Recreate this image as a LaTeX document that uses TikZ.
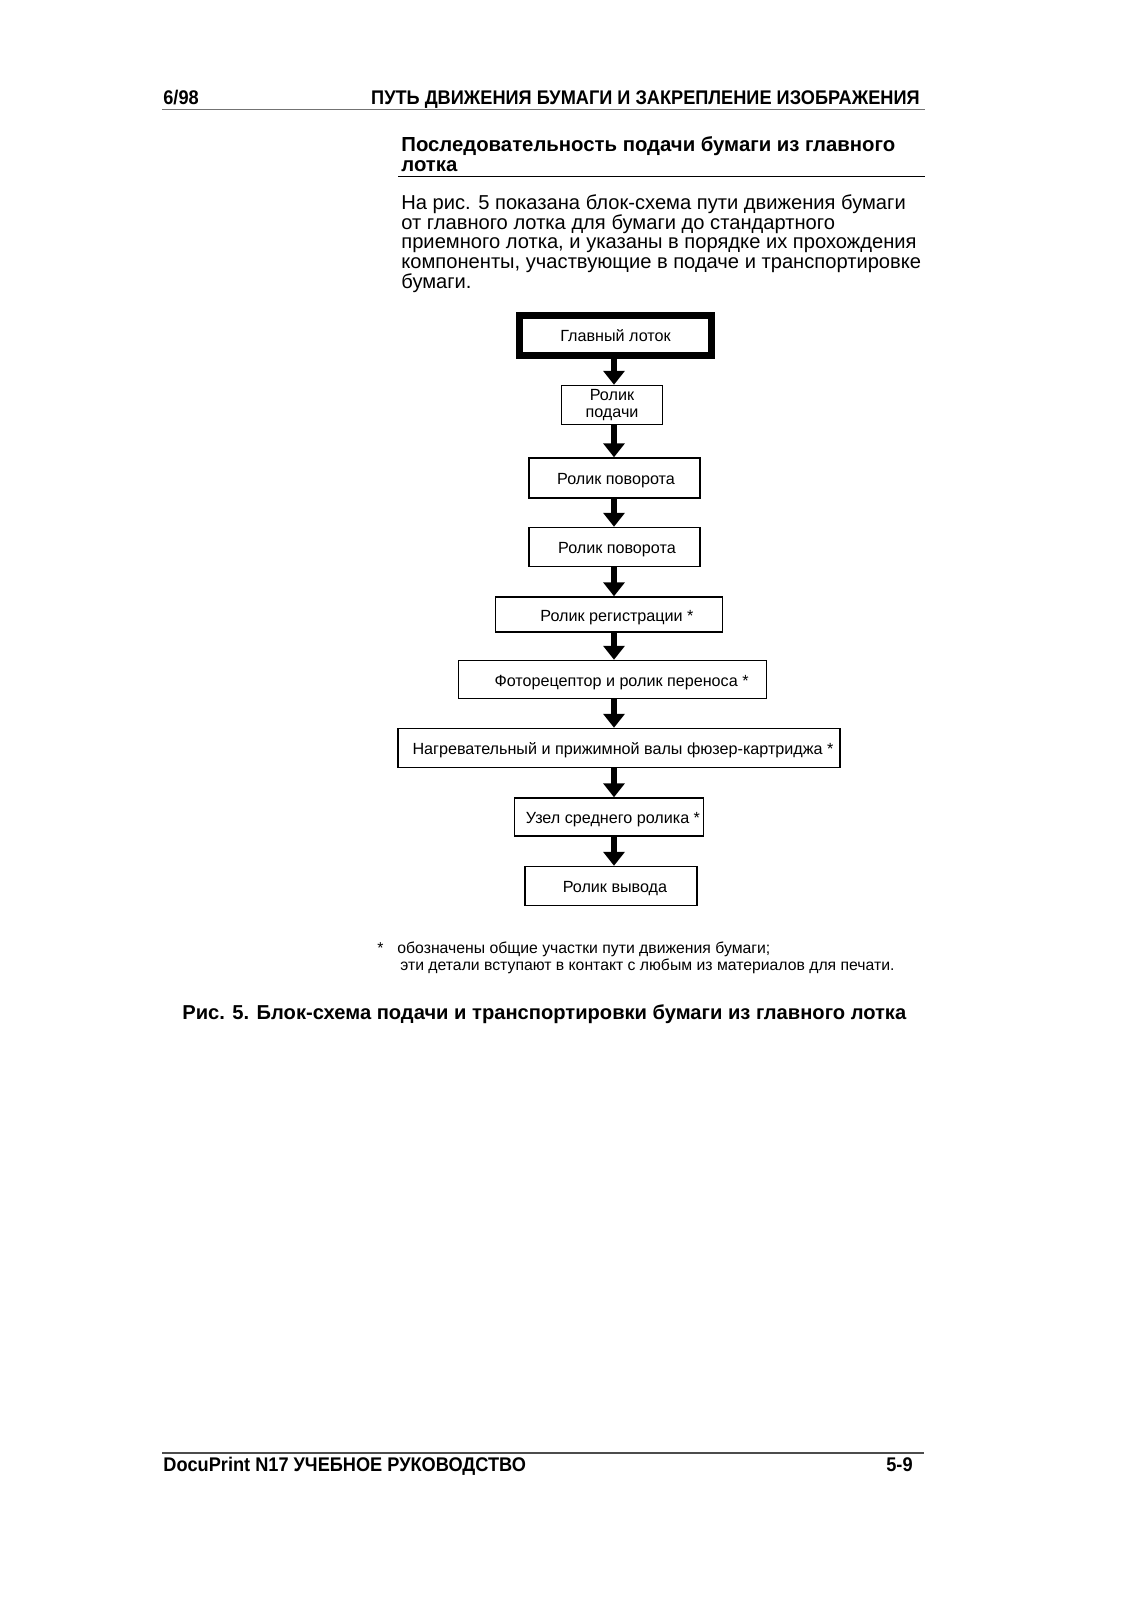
\documentclass[tikz,border=0pt]{standalone}
\usepackage{fontspec}
\setmainfont{Liberation Sans}
\usetikzlibrary{arrows.meta, positioning}

\def\px{0.52632pt}
\newcommand{\narrowtxt}[1]{\scalebox{0.92}[1]{#1}}
\tikzset{
  txt/.style={inner sep=0pt, anchor=base west},
  hdr/.style={txt, font=\bfseries\fontsize{10.4}{12}\selectfont},
  head/.style={txt, font=\bfseries\fontsize{10.7}{12}\selectfont},
  body/.style={txt, font=\fontsize{10.6}{12}\selectfont},
  note/.style={txt, font=\fontsize{8.3}{10}\selectfont},
  capt/.style={txt, font=\bfseries\fontsize{10.6}{12}\selectfont},
  block/.style 2 args={draw, line width=0.8pt, inner sep=0pt, align=center,
    minimum width=#1*\px, minimum height=#2*\px,
    font=\fontsize{8.5}{8.6}\selectfont},
  oneline/.style={text height=7pt, text depth=0pt},
  nudge/.style={execute at begin node=\hspace*{#1}},
  trayblock/.style={line width=3.7pt},
  flow/.style={line width=3.6pt, -{Triangle[length=7.3pt, width=11pt]}},
}

\begin{document}
\begin{tikzpicture}[x=\px, y=-\px]
\fill[white] (0,0) rectangle (1131,1600);
\useasboundingbox (0,0) rectangle (1131,1600);

% page header
\node[hdr] (pageno) at (163,104) {\narrowtxt{6/98}};
\node[hdr, anchor=base east] (chapter) at (920,104) {\narrowtxt{ПУТЬ ДВИЖЕНИЯ БУМАГИ И ЗАКРЕПЛЕНИЕ ИЗОБРАЖЕНИЯ}};
\draw[black!55, line width=1pt] (162,109.5) -- (925,109.5);

% section title and text
\node[head] (title1) at (401,151) {Последовательность подачи бумаги из главного};
\node[head] (title2) at (401,171) {лотка};
\draw[line width=0.8pt] (398,176.5) -- (925,176.5);

\foreach \t [count=\i] in {
  {На рис. 5 показана блок-схема пути движения бумаги},
  {от главного лотка для бумаги до стандартного},
  {приемного лотка, и указаны в порядке их прохождения},
  {компоненты, участвующие в подаче и транспортировке},
  {бумаги.}}
  \node[body] (body\i) at (401,{209.5+19.7*(\i-1)}) {\t};

% flow chart
\coordinate (axis) at (614,0);
\node[block={192}{40}, trayblock] (tray) at (615.5,335.5) {Главный лоток};
\node[block={101}{39}] (feed) at (612,405) {Ролик\\подачи};
\node[block={171}{40}, oneline, nudge=1.6pt] (turnA) at (614.5,478) {Ролик поворота};
\node[block={171}{39}, oneline, nudge=2.6pt] (turnB) at (614.5,547) {Ролик поворота};
\node[block={227}{35}, oneline, nudge=8.4pt] (regist) at (609,614.5) {Ролик регистрации *};
\node[block={308}{38}, oneline, nudge=9.5pt] (photo) at (612.5,679.5) {Фоторецептор и ролик переноса *};
\node[block={442}{39}, oneline, nudge=4.2pt] (fuser) at (619,748) {Нагревательный и прижимной валы фюзер-картриджа *};
\node[block={189}{38}, oneline, nudge=4.2pt] (middle) at (609,817) {Узел среднего ролика *};
\node[block={172.5}{39}, oneline, nudge=4.2pt] (exit) at (611,886) {Ролик вывода};

\foreach \a/\b in {tray/feed, feed/turnA, turnA/turnB, turnB/regist,
  regist/photo, photo/fuser, fuser/middle, middle/exit}
  \draw[flow] (\a.south -| axis) -- (\b.north -| axis);

% footnote and caption
\node[note] (star) at (377,953.5) {*};
\node[note] (note1) at (397,953.5) {обозначены общие участки пути движения бумаги;};
\node[note] (note2) at (400,970.5) {эти детали вступают в контакт с любым из материалов для печати.};
\node[capt] (caption) at (182,1019) {Рис. 5. Блок-схема подачи и транспортировки бумаги из главного лотка};

% page footer
\draw[black!70, line width=0.6pt] (162,1453) -- (924,1453);
\node[hdr] (manual) at (163,1471) {\narrowtxt{DocuPrint N17 УЧЕБНОЕ РУКОВОДСТВО}};
\node[hdr, anchor=base east] (pagenum) at (913,1471) {\narrowtxt{5-9}};
\end{tikzpicture}
\end{document}
